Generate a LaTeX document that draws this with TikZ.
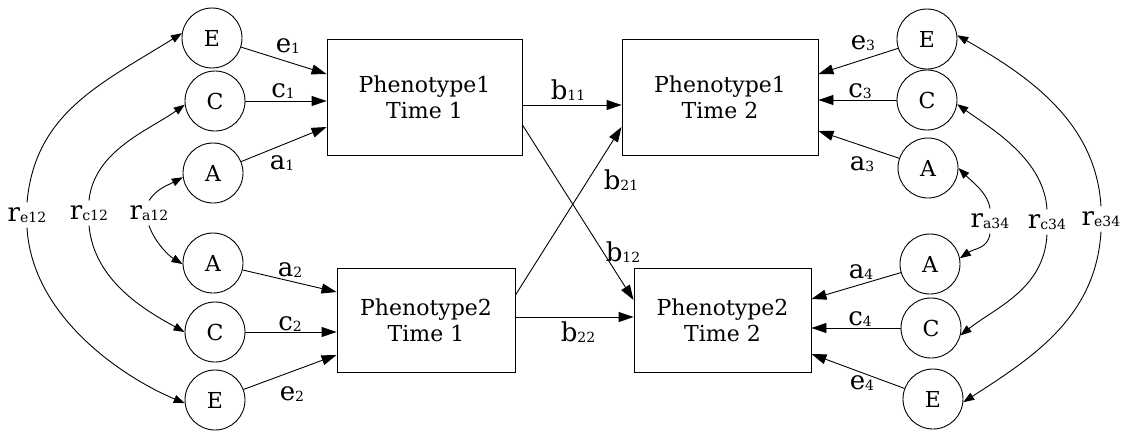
\documentclass[tikz,border=0pt]{standalone}
\usepackage{fontspec}
\setmainfont{DejaVu Serif}
\usetikzlibrary{arrows.meta,calc}
\newcommand\lab[2]{#1\raisebox{-1pt}{\fontsize{14}{14}\selectfont #2}}
\begin{document}
\begin{tikzpicture}[x=1pt,y=-1pt, line width=0.9pt,
  lat/.style={circle,draw,minimum size=60pt,inner sep=0pt,font=\fontsize{22}{24}\selectfont},
  obs/.style={draw,align=center,font=\fontsize{22}{26}\selectfont,inner sep=0pt},
  pth/.style={-{Triangle[length=15pt,width=10pt]}},
  cov/.style={-{Triangle[length=11pt,width=8pt]}},
  lbl/.style={font=\fontsize{26}{26}\selectfont, inner sep=0pt},
  rl/.style={lbl, outer sep=5pt}
]
\useasboundingbox (0,0) rectangle (1130,431);
% boxes
\node[obs,minimum width=195pt,minimum height=116pt] (P11) at (424.5,97) {Phenotype1\\Time 1};
\node[obs,minimum width=178pt,minimum height=104pt] (P21) at (426,320) {Phenotype2\\Time 1};
\node[obs,minimum width=196pt,minimum height=116pt] (P12) at (720,97) {Phenotype1\\Time 2};
\node[obs,minimum width=177pt,minimum height=104pt] (P22) at (722.5,320) {Phenotype2\\Time 2};
% latent circles
\node[lat] (E1) at (212,38) {E};
\node[lat] (C1) at (215,101) {C};
\node[lat] (A1) at (213,173) {A};
\node[lat] (A2) at (213,263) {A};
\node[lat] (C2) at (215,332) {C};
\node[lat] (E2) at (215,400) {E};
\node[lat] (E3) at (927,39) {E};
\node[lat] (C3) at (927,100) {C};
\node[lat] (A3) at (928,168) {A};
\node[lat] (A4) at (930,264) {A};
\node[lat] (C4) at (931,328) {C};
\node[lat] (E4) at (933,399) {E};
% paths into boxes
\draw[pth] (E1) -- ($(P11.west)+(0,-23)$);
\draw[pth] (C1) -- ($(P11.west)+(0,4)$);
\draw[pth] (A1) -- ($(P11.west)+(0,30)$);
\draw[pth] (A2) -- ($(P21.west)+(0,-28)$);
\draw[pth] (C2) -- ($(P21.west)+(0,12)$);
\draw[pth] (E2) -- ($(P21.west)+(0,35)$);
\draw[pth] (E3) -- ($(P12.east)+(0,-23)$);
\draw[pth] (C3) -- ($(P12.east)+(0,3)$);
\draw[pth] (A3) -- ($(P12.east)+(0,34)$);
\draw[pth] (A4) -- ($(P22.east)+(0,-21)$);
\draw[pth] (C4) -- ($(P22.east)+(0,8)$);
\draw[pth] (E4) -- ($(P22.east)+(0,34)$);
% cross-lagged
\draw[pth] ($(P11.east)+(0,8)$) -- ($(P12.west)+(0,8)$);
\draw[pth] ($(P21.east)+(0,-25)$) -- ($(P12.west)+(0,30)$);
\draw[pth] ($(P11.east)+(0,28)$) -- ($(P22.west)+(0,-20)$);
\draw[pth] ($(P21.east)+(0,-3)$) -- ($(P22.west)+(0,-3)$);
% path labels
\node[lbl] (le1) at (288,46) {\lab{e}{1}};
\node[lbl] (lc1) at (283,91) {\lab{c}{1}};
\node[lbl] (la1) at (282,163) {\lab{a}{1}};
\node[lbl] (la2) at (290,270) {\lab{a}{2}};
\node[lbl] (lc2) at (290,324) {\lab{c}{2}};
\node[lbl] (le2) at (292,394) {\lab{e}{2}};
\node[lbl] (lb11) at (568,90) {\lab{b}{11}};
\node[lbl] (lb21) at (621,180) {\lab{b}{21}};
\node[lbl] (lb12) at (623,252) {\lab{b}{12}};
\node[lbl] (lb22) at (578,332) {\lab{b}{22}};
\node[lbl] (le3) at (863,43) {\lab{e}{3}};
\node[lbl] (lc3) at (860,91) {\lab{c}{3}};
\node[lbl] (la3) at (862,164) {\lab{a}{3}};
\node[lbl] (la4) at (861,272) {\lab{a}{4}};
\node[lbl] (lc4) at (860,319) {\lab{c}{4}};
\node[lbl] (le4) at (862,383) {\lab{e}{4}};
% correlation labels
\node[rl] (re12) at (27,215) {\lab{r}{e12}};
\node[rl] (rc12) at (89,213) {\lab{r}{c12}};
\node[rl] (ra12) at (149,213) {\lab{r}{a12}};
\node[rl] (ra34) at (990,221) {\lab{r}{a34}};
\node[rl] (rc34) at (1047,222) {\lab{r}{c34}};
\node[rl] (re34) at (1101,219) {\lab{r}{e34}};
% correlation curves
\draw[cov] (re12.north) .. controls +(8,-90) and +(-80,50) .. (E1.171);
\draw[cov] (re12.south) .. controls +(5,90) and +(-60,-25) .. (E2.186);
\draw[cov] (rc12.north) .. controls +(5,-50) and +(-35,25) .. (C1.187);
\draw[cov] (rc12.south) .. controls +(5,55) and +(-40,-22) .. (C2.180);
\draw[cov] (ra12.north) .. controls +(8,-12) and +(-15,8) .. (A1.188);
\draw[cov] (ra12.south) .. controls +(5,15) and +(-15,-9) .. (A2.182);
\draw[cov] (ra34.north) .. controls +(-2,-15) and +(15,15) .. (A3.0);
\draw[cov] (ra34.south) .. controls +(-2,15) and +(15,-10) .. (A4.11);
\draw[cov] (rc34.north) .. controls +(-3,-50) and +(35,25) .. (C3.-8);
\draw[cov] (rc34.south) .. controls +(-3,55) and +(35,-28) .. (C4.-14);
\draw[cov] (re34.north) .. controls +(-5,-85) and +(70,40) .. (E3.7);
\draw[cov] (re34.south) .. controls +(-5,85) and +(70,-45) .. (E4.-6);
\end{tikzpicture}
\end{document}
